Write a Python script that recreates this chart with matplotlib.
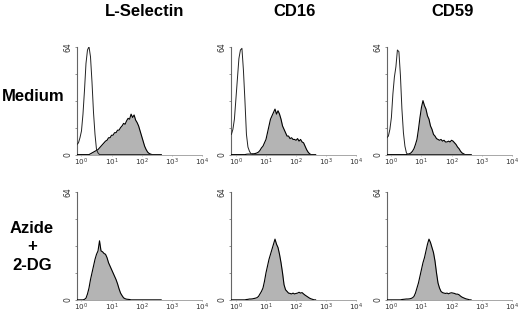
import numpy as np
import matplotlib
matplotlib.use("Agg")
import matplotlib.pyplot as plt

# log10 fluorescence channels (bins)
log_fl = np.round(np.arange(-0.15, 2.651, 0.05), 2)

col_titles = ["L-Selectin", "CD16", "CD59"]
row_titles = ["Medium", "Azide\n+\n2-DG"]

# cell counts per channel, 0-64 scale
lsel_med_open = [6, 7, 10, 14, 24, 38, 54, 62, 64, 58,
                 43, 25, 12, 3, 1, 0, 0, 0, 0, 0] + [0] * 37
lsel_med_fill = [0, 0, 0, 0, 0, 0, 0, 0, 0, 0.5,
                 1, 1.5, 2, 2.5, 3, 4, 5, 6, 7, 8,
                 8.5, 10, 10, 11.5, 11.5, 13, 13, 14.5, 14.5, 16,
                 17, 18.5, 18, 20, 21.5, 21, 24, 22, 23.5, 20.5,
                 19, 17, 14, 11, 8, 5, 3, 1.5, 0.7, 0.3,
                 0, 0, 0, 0, 0, 0, 0]
cd16_med_open = [12, 15, 21, 33, 45, 57, 62, 63, 50, 32,
                 12, 4.5, 2, 0.5, 0, 0, 0, 0, 0, 0] + [0] * 37
cd16_med_fill = [0, 0, 0, 0, 0, 0, 0, 0, 0, 0,
                 0.2, 0.3, 0.3, 0.3, 0.5, 0.5, 0.7, 1, 1.5, 2.5,
                 4, 5, 7, 9, 13, 17, 21, 23, 25, 27,
                 24, 26, 24, 21, 17, 15, 13, 11, 11, 9.5,
                 10, 9, 9, 8.5, 9.5, 8, 9, 7.5, 7, 5,
                 3, 1.5, 0.5, 0, 0, 0, 0]
cd59_med_open = [10, 11, 15, 22, 36, 46, 52, 62, 61, 47,
                 27, 13, 5, 1, 0, 0, 0, 0, 0, 0] + [0] * 37
cd59_med_fill = [0, 0, 0, 0, 0, 0, 0, 0, 0, 0,
                 0, 0, 0, 0, 0.3, 0.5, 1, 2, 3.5, 6,
                 9, 15, 22, 28, 32, 29, 27, 23, 21, 17,
                 15, 12, 11, 9.5, 9, 8.5, 9, 8, 8.5, 7.5,
                 7.5, 8, 7.5, 8.5, 8, 7, 6, 4.5, 3.5, 2,
                 1, 0.5, 0, 0, 0, 0, 0]
lsel_az_fill = [0, 0, 0, 0, 0, 0.3, 1, 3.5, 7, 12,
                16, 20, 24, 27, 29, 35, 29, 28.5, 27.5, 27,
                25, 22, 20, 18, 16, 14, 12, 9.5, 6.5, 4,
                2.5, 1.2, 0.7, 0.4, 0.3, 0.2, 0, 0, 0, 0] + [0] * 17
cd16_az_fill = [0, 0, 0, 0, 0, 0, 0, 0, 0, 0,
                0.2, 0.3, 0.5, 0.5, 0.6, 0.8, 1, 1.3, 2, 3.5,
                5, 7, 11, 16, 20, 24, 27, 30, 33, 36,
                33, 31, 27, 22, 16, 9, 6, 5, 4, 3.8,
                3.5, 4, 3.5, 3.8, 4, 4.5, 4, 4.3, 3.5, 2.8,
                2.2, 1.6, 1, 0.6, 0.3, 0, 0]
cd59_az_fill = [0, 0, 0, 0, 0, 0, 0, 0, 0, 0,
                0.2, 0.3, 0.4, 0.5, 0.5, 0.6, 0.8, 1.2, 2, 4,
                7, 10, 14, 18, 22, 25, 29, 33, 36, 34,
                31, 28, 23, 16, 10, 7, 5, 4.3, 4, 3.8,
                4, 3.6, 4, 4.2, 4, 3.8, 3.4, 3.4, 3, 2.2,
                1.6, 1.2, 0.8, 0.5, 0.3, 0, 0]

xtick_vals = [1, 10, 100, 1000, 10000]
xtick_labels = ["$10^0$", "$10^1$", "$10^2$", "$10^3$", "$10^4$"]

panels = [
    [(lsel_med_open, lsel_med_fill), (cd16_med_open, cd16_med_fill), (cd59_med_open, cd59_med_fill)],
    [(None, lsel_az_fill), (None, cd16_az_fill), (None, cd59_az_fill)],
]

FILL = "#b4b4b4"
FONT = "Liberation Sans"

fig = plt.figure(figsize=(5.2, 3.13), dpi=100)
fig.patch.set_facecolor("white")

col_x0 = [0.148, 0.445, 0.744]
row_y0 = [0.506, 0.042]
W, H = 0.240, 0.345

x = 10 ** log_fl
for r in range(2):
    for c in range(3):
        ax = fig.add_axes([col_x0[c], row_y0[r], W, H])
        open_y, fill_y = panels[r][c]
        ax.fill_between(x, fill_y, 0, color=FILL, lw=0, zorder=2)
        ax.plot(x, fill_y, color="black", lw=0.8, zorder=3)
        if open_y is not None:
            ax.plot(x, open_y, color="#222", lw=0.7, zorder=4)
        ax.set_xscale("log")
        ax.set_xlim(10 ** -0.15, 10 ** 4.0)
        ax.set_ylim(0, 64)
        for s in ["top", "right"]:
            ax.spines[s].set_visible(False)
        ax.spines["left"].set_color("#666")
        ax.spines["left"].set_linewidth(0.8)
        ax.spines["bottom"].set_color("#999")
        ax.spines["bottom"].set_linewidth(0.6)
        ax.set_xticks(xtick_vals)
        ax.set_xticklabels(xtick_labels, fontsize=5.2, color="#333")
        ax.xaxis.set_minor_locator(matplotlib.ticker.NullLocator())
        ax.tick_params(axis="x", length=1, width=0.5, pad=0.5, color="#999")
        ax.set_yticks([0, 64])
        ax.set_yticklabels(["0", "64"], fontsize=5.5, rotation=90,
                           va="center", color="#333")
        ax.set_yticks([16, 32, 48], minor=True)
        ax.tick_params(axis="y", which="both", length=1.5, width=0.5,
                       pad=2, color="#666")

title_cx = [144.5, 294.5, 452.5]
for c, t in enumerate(col_titles):
    fig.text(title_cx[c] / 520, 1 - 11 / 313, t, ha="center", va="center",
             fontsize=12, fontweight="bold", family=FONT)

fig.text(33.5 / 520, 1 - 97 / 313, row_titles[0], ha="center", va="center",
         fontsize=12, fontweight="bold", family=FONT)
fig.text(32 / 520, 1 - 247 / 313, row_titles[1], ha="center", va="center",
         fontsize=12, fontweight="bold", family=FONT, linespacing=1.3)

fig.savefig("out.png", dpi=100, facecolor="white")
